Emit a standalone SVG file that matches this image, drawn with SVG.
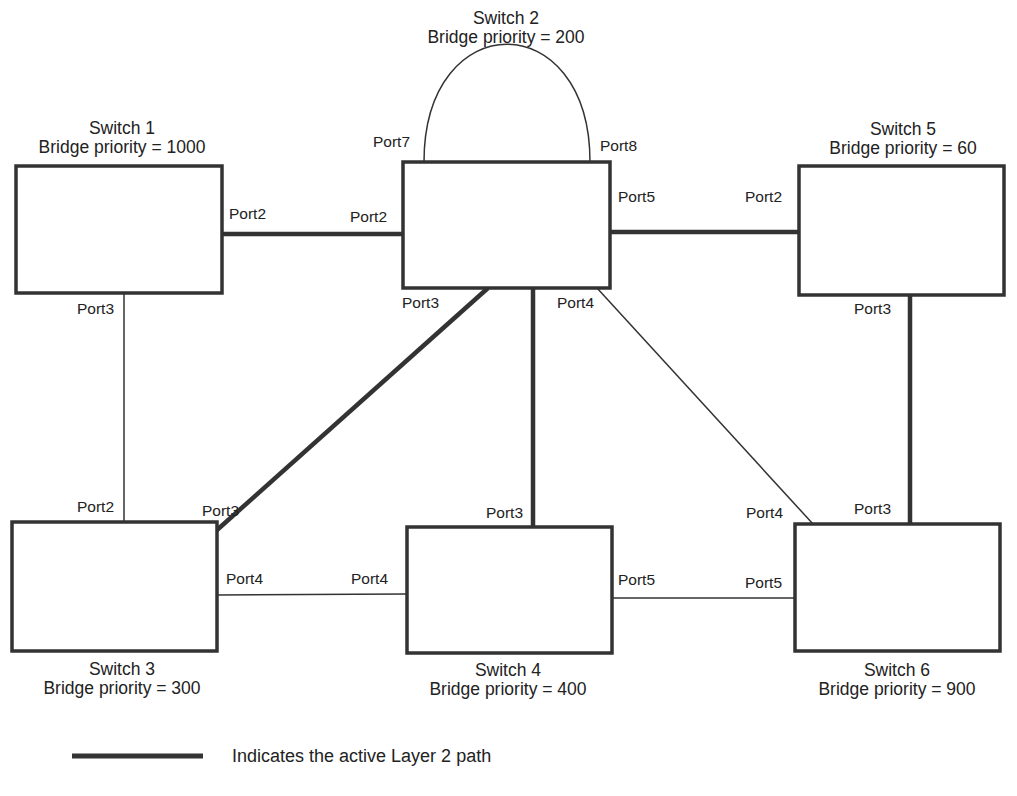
<svg xmlns="http://www.w3.org/2000/svg" width="1017" height="796" viewBox="0 0 1017 796">
<style>
.box{fill:#fff;stroke:#333;stroke-width:3.5}
.thick{stroke:#333;stroke-width:4.5;fill:none}
.thin{stroke:#333;stroke-width:1.5;fill:none}
text{font-family:"Liberation Sans",Arial,sans-serif;font-size:15.5px;fill:#222}
.c{text-anchor:middle;font-size:17.5px}
.lg{font-size:18px}
</style>
<rect width="1017" height="796" fill="#fff"/>
<g id="connectors">
<line class="thick" x1="222" y1="234" x2="408" y2="234"/>
<line class="thick" x1="610" y1="232" x2="799" y2="232"/>
<line class="thin" x1="124" y1="293" x2="124" y2="522"/>
<line class="thick" x1="488" y1="288" x2="217" y2="530"/>
<line class="thick" x1="533" y1="288" x2="533" y2="527"/>
<line class="thin" x1="597" y1="288" x2="813" y2="524"/>
<line class="thick" x1="910" y1="295" x2="910" y2="524"/>
<line class="thin" x1="217" y1="595" x2="407" y2="594"/>
<line class="thin" x1="612" y1="598" x2="795" y2="598"/>
<path class="thin" d="M424,162 C424,5 590,5 590,162"/>
</g>
<g id="switch1"><rect class="box" x="16" y="166" width="206" height="127"/>
<text class="c" x="122" y="134">Switch 1</text><text class="c" x="122" y="153">Bridge priority = 1000</text>
<text x="229" y="219">Port2</text><text x="77" y="314">Port3</text></g>
<g id="switch2"><rect class="box" x="403" y="162" width="207" height="126"/>
<text class="c" x="506" y="24">Switch 2</text><text class="c" x="506" y="43">Bridge priority = 200</text>
<text x="373" y="147">Port7</text><text x="600" y="151">Port8</text>
<text x="350" y="222">Port2</text><text x="618" y="202">Port5</text>
<text x="402" y="308">Port3</text><text x="557" y="308">Port4</text></g>
<g id="switch5"><rect class="box" x="799" y="166" width="205" height="129"/>
<text class="c" x="903" y="135">Switch 5</text><text class="c" x="903" y="154">Bridge priority = 60</text>
<text x="745" y="202">Port2</text><text x="854" y="314">Port3</text></g>
<g id="switch3"><rect class="box" x="12" y="522" width="205" height="129"/>
<text class="c" x="122" y="675">Switch 3</text><text class="c" x="122" y="694">Bridge priority = 300</text>
<text x="77" y="512">Port2</text><text x="202" y="516">Port3</text><text x="226" y="584">Port4</text></g>
<g id="switch4"><rect class="box" x="407" y="527" width="205" height="126"/>
<text class="c" x="508" y="676">Switch 4</text><text class="c" x="508" y="695">Bridge priority = 400</text>
<text x="486" y="518">Port3</text><text x="351" y="584">Port4</text><text x="618" y="585">Port5</text></g>
<g id="switch6"><rect class="box" x="795" y="524" width="205" height="127"/>
<text class="c" x="897" y="676">Switch 6</text><text class="c" x="897" y="695">Bridge priority = 900</text>
<text x="746" y="518">Port4</text><text x="854" y="514">Port3</text><text x="745" y="588">Port5</text></g>
<g id="legend"><line x1="72" y1="756" x2="203" y2="756" stroke="#333" stroke-width="5"/>
<text class="lg" x="232" y="762">Indicates the active Layer 2 path</text></g>
</svg>
